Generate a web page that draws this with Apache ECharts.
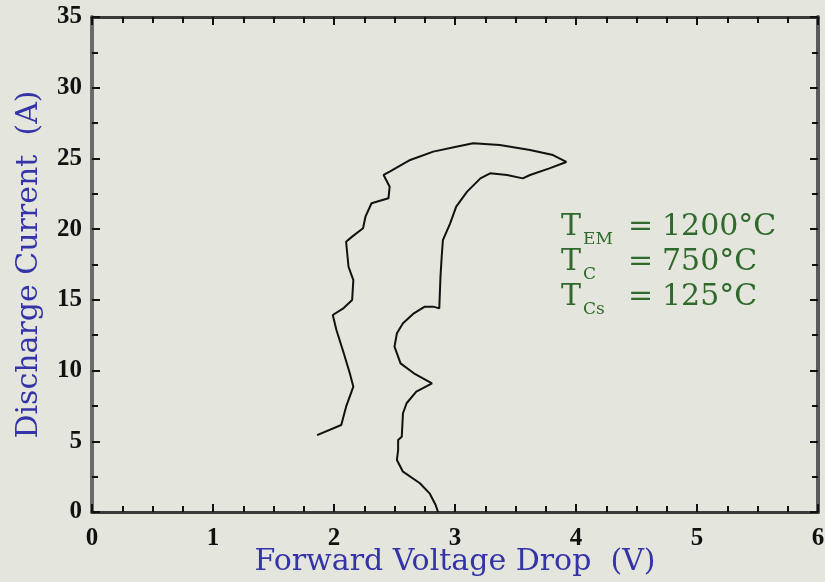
<!DOCTYPE html>
<html><head><meta charset="utf-8">
<script src="https://cdn.jsdelivr.net/npm/echarts@6/dist/echarts.min.js"></script>
<style>html,body{margin:0;padding:0;background:#e4e5dc}#c{width:825px;height:582px}</style>
</head><body><div id="c"></div>
<script>
// Forward voltage (V) along the traced discharge curve
const voltage = [1.86,2.06,2.10,2.16,2.13,2.08,2.02,1.99,2.08,2.15,2.16,2.12,2.10,2.15,2.24,2.26,2.31,2.45,2.46,2.41,2.46,2.63,2.82,3.01,3.15,3.37,3.62,3.81,3.92,
  3.78,3.62,3.56,3.43,3.29,3.21,3.10,3.01,2.96,2.90,2.89,2.88,2.87,2.82,2.75,2.66,2.57,2.52,2.50,2.55,2.66,2.81,2.68,2.60,2.57,2.56,2.53,2.53,2.52,2.57,2.71,2.79,2.84,2.86];
// Discharge current (A)
const current = [5.44,6.15,7.45,8.86,9.83,11.24,12.87,13.93,14.42,14.99,16.40,17.34,19.11,19.47,20.06,20.88,21.83,22.18,23.00,23.83,24.06,24.89,25.48,25.83,26.07,25.95,25.60,25.24,24.75,
  24.30,23.83,23.59,23.83,23.95,23.59,22.65,21.59,20.41,19.23,18.05,16.64,14.40,14.52,14.52,14.05,13.34,12.64,11.69,10.51,9.81,9.10,8.51,7.69,6.98,5.32,5.09,4.38,3.68,2.85,2.03,1.32,0.49,0.0];
const xTicks = [0,1,2,3,4,5,6];
const yTicks = [0,5,10,15,20,25,30,35];
const xTitle = 'Forward Voltage Drop  (V)';
const yTitle = 'Discharge Current  (A)';
const labelsT = [['EM','1200°C'],['C','750°C'],['Cs','125°C']];

const chart = echarts.init(document.getElementById('c'));
const serif = '"Liberation Serif","DejaVu Serif",serif';
const wide = '"DejaVu Serif","Liberation Serif",serif';
const green = '#2f6a2c';
const axisColor = '#3a3a3a';
const tickStyle = {show:true, inside:true, length:8, lineStyle:{color:'#111',width:2}};
const minorX = {show:true, splitNumber:4, length:6, lineStyle:{color:'#111',width:2}};
const minorY = {show:true, splitNumber:2, length:6, lineStyle:{color:'#111',width:2}};
const pts = voltage.map((v,i)=>[v,current[i]]);

const graphics = [];
labelsT.forEach((l,i)=>{
  const top = 212 + i*35;
  graphics.push({type:'text', left:561, top:top, style:{text:'T', fontSize:30, fontFamily:wide, fill:green}});
  graphics.push({type:'text', left:583, top:top+19, style:{text:l[0], fontSize:17, fontFamily:wide, fill:green}});
  graphics.push({type:'text', left:628, top:top, style:{text:'=', fontSize:30, fontFamily:wide, fill:green}});
  graphics.push({type:'text', left:662, top:top, style:{text:l[1], fontSize:30, fontFamily:wide, fill:green}});
});

chart.setOption({
  backgroundColor:'#e4e5dc',
  animation:false,
  grid:{left:92,right:7,top:17,bottom:70,containLabel:false,outerBoundsMode:'none'},
  xAxis:[{type:'value',min:0,max:6,interval:1,position:'bottom',
    axisLine:{show:true,onZero:false,lineStyle:{color:axisColor,width:3}},
    axisTick:tickStyle, minorTick:minorX, splitLine:{show:false},
    axisLabel:{color:'#111',fontSize:25,fontWeight:'bold',fontFamily:serif,margin:14,
      formatter:v=>xTicks.includes(v)?String(v):''},
    name:xTitle,nameLocation:'middle',nameGap:35,nameMoveOverlap:false,
    nameTextStyle:{color:'#3434a8',fontSize:30,fontFamily:wide}},
   {type:'value',min:0,max:6,interval:1,position:'top',
    axisLine:{show:true,onZero:false,lineStyle:{color:axisColor,width:3}},
    axisTick:tickStyle, minorTick:minorX, splitLine:{show:false}, axisLabel:{show:false}}],
  yAxis:[{type:'value',min:0,max:35,interval:5,position:'left',
    axisLine:{show:true,onZero:false,lineStyle:{color:'#6a6a6a',width:4}},
    axisTick:tickStyle, minorTick:minorY, splitLine:{show:false},
    axisLabel:{color:'#111',fontSize:25,fontWeight:'bold',fontFamily:serif,margin:10,
      formatter:v=>yTicks.includes(v)?String(v):''},
    name:yTitle,nameLocation:'middle',nameGap:48,nameMoveOverlap:false,
    nameTextStyle:{color:'#3434a8',fontSize:30,fontFamily:wide}},
   {type:'value',min:0,max:35,interval:5,position:'right',
    axisLine:{show:true,onZero:false,lineStyle:{color:'#5a5a5a',width:4}},
    axisTick:tickStyle, minorTick:minorY, splitLine:{show:false}, axisLabel:{show:false}}],
  series:[{type:'line',data:pts,showSymbol:false,smooth:false,
    lineStyle:{color:'#111',width:2},xAxisIndex:0,yAxisIndex:0}],
  graphic:graphics
});
</script></body></html>
